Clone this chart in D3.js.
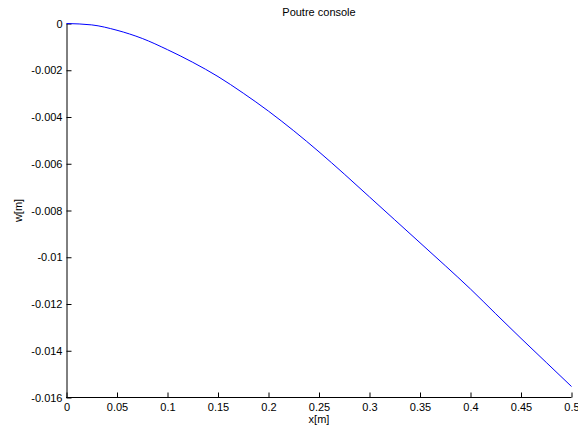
<!DOCTYPE html>
<html>
<head>
<meta charset="utf-8">
<script src="https://cdn.jsdelivr.net/npm/d3@7/dist/d3.min.js"></script>
<style>
  html, body { margin: 0; padding: 0; background: #fff; }
  svg { display: block; }
  text { font-family: Arial, "Liberation Sans", sans-serif; fill: #000; }
</style>
</head>
<body>
<svg id="chart" width="578" height="430"></svg>
<script>
// Data
const xValues = [0, 0.025, 0.05, 0.075, 0.1, 0.125, 0.15, 0.175, 0.2, 0.225, 0.25,
                 0.275, 0.3, 0.325, 0.35, 0.375, 0.4, 0.425, 0.45, 0.475, 0.5];
const wValues = [0, -0.00006, -0.00029, -0.00064, -0.00112, -0.00166, -0.00227, -0.00298,
                 -0.00375, -0.00459, -0.00549, -0.00644, -0.00742, -0.0084, -0.00938,
                 -0.01036, -0.01136, -0.01242, -0.01347, -0.0145, -0.01553];
const xTicks = [0, 0.05, 0.1, 0.15, 0.2, 0.25, 0.3, 0.35, 0.4, 0.45, 0.5];
const xTickLabels = ["0", "0.05", "0.1", "0.15", "0.2", "0.25", "0.3", "0.35", "0.4", "0.45", "0.5"];
const yTicks = [0, -0.002, -0.004, -0.006, -0.008, -0.01, -0.012, -0.014, -0.016];
const yTickLabels = ["0", "-0.002", "-0.004", "-0.006", "-0.008", "-0.01", "-0.012", "-0.014", "-0.016"];
const titleText = "Poutre console";
const xLabel = "x[m]";
const yLabel = "w[m]";

const svg = d3.select("#chart");
const plotLeft = 66.5, plotRight = 571.5, plotTop = 23.5, plotBottom = 397.5;

const x = d3.scaleLinear().domain([0, 0.5]).range([plotLeft, plotRight]);
const y = d3.scaleLinear().domain([-0.016, 0]).range([plotBottom, plotTop]);

const fontSize = "11px";

// X axis
const xAxis = d3.axisBottom(x)
  .tickValues(xTicks)
  .tickFormat((d, i) => xTickLabels[i])
  .tickSizeInner(-5).tickSizeOuter(0).tickPadding(6);
const gx = svg.append("g").attr("transform", `translate(0,${plotBottom})`).call(xAxis);

// Y axis
const yAxis = d3.axisLeft(y)
  .tickValues(yTicks)
  .tickFormat((d, i) => yTickLabels[i])
  .tickSizeInner(-5).tickSizeOuter(0).tickPadding(4);
const gy = svg.append("g").attr("transform", `translate(${plotLeft},0)`).call(yAxis);

[gx, gy].forEach(g => {
  g.selectAll("text").style("font-size", fontSize).style("font-family", "Arial, 'Liberation Sans', sans-serif").attr("fill", "#000");
  g.selectAll("line").attr("stroke", "#000");
  g.select(".domain").attr("stroke", "#000");
});
gx.select(".domain").attr("d", `M${plotLeft - 0.5},0H${plotRight}`);

// Curve
const line = d3.line().x((d, i) => x(xValues[i])).y(d => y(d)).curve(d3.curveMonotoneX);
svg.append("path")
  .datum(wValues)
  .attr("d", line)
  .attr("fill", "none")
  .attr("stroke", "#0000ff")
  .attr("stroke-width", 1);

// Title
svg.append("text")
  .attr("x", (plotLeft + plotRight) / 2)
  .attr("y", 16)
  .attr("text-anchor", "middle")
  .style("font-size", fontSize)
  .text(titleText);

// X label
svg.append("text")
  .attr("x", (plotLeft + plotRight) / 2)
  .attr("y", 423)
  .attr("text-anchor", "middle")
  .style("font-size", fontSize)
  .text(xLabel);

// Y label
svg.append("text")
  .attr("transform", `translate(22,${(plotTop + plotBottom) / 2}) rotate(-90)`)
  .attr("text-anchor", "middle")
  .style("font-size", fontSize)
  .text(yLabel);
</script>
</body>
</html>
